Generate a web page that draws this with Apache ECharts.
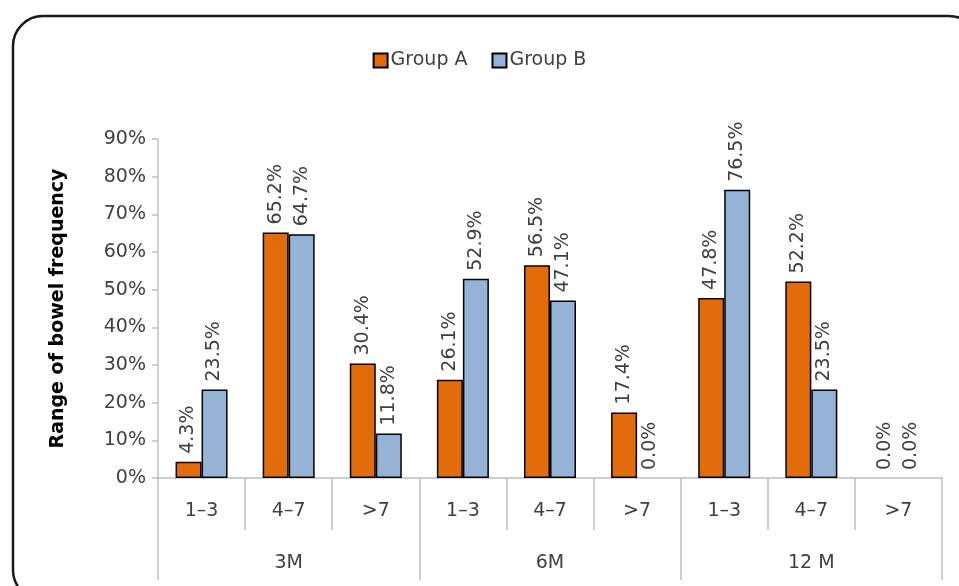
<!DOCTYPE html>
<html>
<head>
<meta charset="utf-8">
<script src="https://cdn.jsdelivr.net/npm/echarts@6/dist/echarts.min.js"></script>
<style>
  html, body { margin: 0; padding: 0; background: #fff; }
  #chart { width: 959px; height: 586px; }
</style>
</head>
<body>
<div id="chart"></div>
<script>
// Bowel frequency ranges, grouped by follow-up time point
const frequencyRanges = ['1–3', '4–7', '>7', '1–3', '4–7', '>7', '1–3', '4–7', '>7'];
const timePoints = ['3M', '6M', '12 M'];
const groupA = [4.3, 65.2, 30.4, 26.1, 56.5, 17.4, 47.8, 52.2, 0.0];
const groupB = [23.5, 64.7, 11.8, 52.9, 47.1, 0.0, 76.5, 23.5, 0.0];
const yTicks = [0, 10, 20, 30, 40, 50, 60, 70, 80, 90];

const FONT = 'DejaVu Sans';
const AXIS_GRAY = '#bfbfbf';
const TEXT = '#404040';

const chart = echarts.init(document.getElementById('chart'), null, { renderer: 'canvas' });

const labelStyle = {
  show: true,
  position: 'top',
  rotate: 90,
  align: 'left',
  verticalAlign: 'middle',
  distance: 8,
  fontFamily: FONT,
  fontSize: 19,
  color: TEXT,
  formatter: p => p.value.toFixed(1) + '%'
};

// zero-height bars get no outline so only their label remains
const barData = values => values.map(v => v === 0
  ? { value: v, itemStyle: { borderWidth: 0 } }
  : v);

chart.setOption({
  animation: false,
  backgroundColor: '#fff',
  graphic: [{
    type: 'rect',
    shape: { x: 13, y: 16, width: 966, height: 584, r: 30 },
    style: { fill: 'none', stroke: '#1a1a1a', lineWidth: 2.5 },
    silent: true,
    z: 100
  }],
  legend: {
    top: 46,
    left: 'center',
    icon: 'rect',
    itemWidth: 14,
    itemHeight: 14,
    itemGap: 24,
    textStyle: { fontFamily: FONT, fontSize: 19, color: TEXT, padding: [0, 0, 0, -2] },
    data: ['Group A', 'Group B']
  },
  grid: { left: 158, right: 17, top: 139, bottom: 108, containLabel: false },
  xAxis: [{
    type: 'category',
    data: frequencyRanges,
    position: 'bottom',
    axisLine: { lineStyle: { color: AXIS_GRAY, width: 1.5 } },
    axisTick: { show: true, interval: 0, length: 52, lineStyle: { color: AXIS_GRAY, width: 1.5 } },
    axisLabel: { interval: 0, margin: 24, fontFamily: FONT, fontSize: 19, color: TEXT }
  }, {
    type: 'category',
    data: timePoints,
    position: 'bottom',
    offset: 52,
    axisLine: { show: false },
    axisTick: { show: true, interval: 0, length: 50, lineStyle: { color: AXIS_GRAY, width: 1.5 } },
    axisLabel: { interval: 0, margin: 24, fontFamily: FONT, fontSize: 19, color: TEXT }
  }],
  yAxis: {
    type: 'value',
    min: yTicks[0],
    max: yTicks[yTicks.length - 1],
    interval: 10,
    name: 'Range of bowel frequency',
    nameLocation: 'middle',
    nameGap: 90,
    nameTextStyle: { fontFamily: FONT, fontSize: 19, fontWeight: 'bold', color: '#000' },
    axisLine: { show: true, lineStyle: { color: AXIS_GRAY, width: 1.5 } },
    axisTick: { show: true, length: 6, lineStyle: { color: AXIS_GRAY, width: 1.5 } },
    splitLine: { show: false },
    axisLabel: { margin: 12, fontFamily: FONT, fontSize: 19, color: TEXT, formatter: '{value}%' }
  },
  series: [{
    name: 'Group A',
    type: 'bar',
    xAxisIndex: 0,
    data: barData(groupA),
    barWidth: 26,
    barGap: '0%',
    itemStyle: { color: '#e36c0a', borderColor: '#000', borderWidth: 1.5 },
    label: labelStyle
  }, {
    name: 'Group B',
    type: 'bar',
    xAxisIndex: 0,
    data: barData(groupB),
    barWidth: 26,
    barGap: '0%',
    itemStyle: { color: '#95b3d7', borderColor: '#000', borderWidth: 1.5 },
    label: labelStyle
  }]
});
</script>
</body>
</html>
